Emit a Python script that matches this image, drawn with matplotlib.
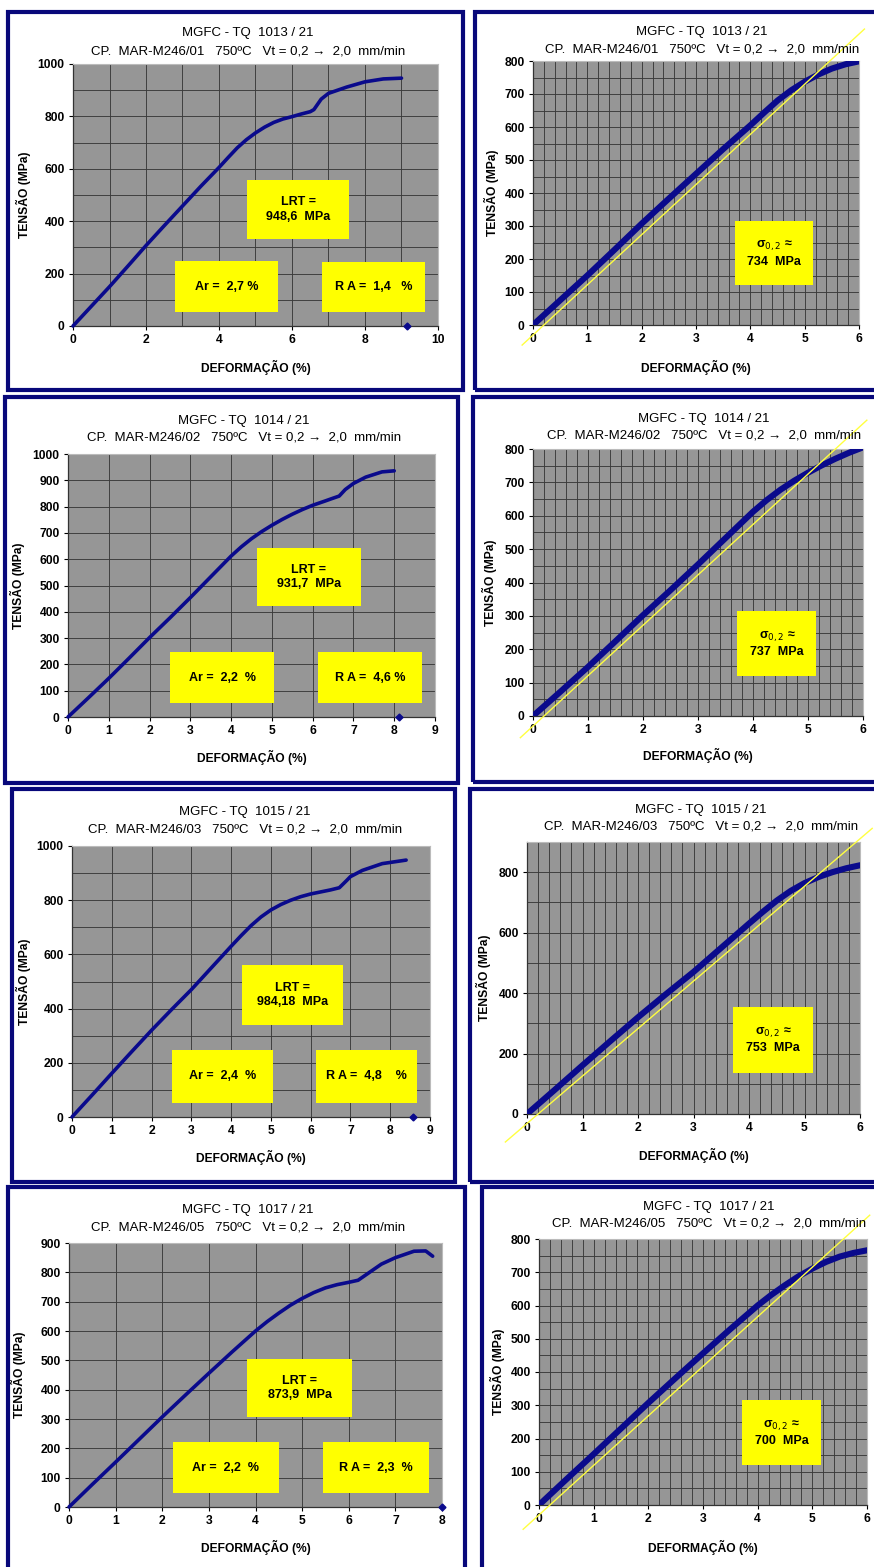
import matplotlib
matplotlib.use("Agg")
import matplotlib.pyplot as plt
from matplotlib.patches import Rectangle
from matplotlib.ticker import MultipleLocator

plt.rcParams['font.family'] = ['Liberation Sans', 'DejaVu Sans']

# ---------------- data ----------------
tests = ["1013", "1014", "1015", "1017"]
specimens = ["MAR-M246/01", "MAR-M246/02", "MAR-M246/03", "MAR-M246/05"]

strain_1013 = [0, 0.5, 1.0, 1.5, 2.0, 2.5, 3.0, 3.5, 4.0, 4.25, 4.5, 4.75, 5.0, 5.25, 5.5, 5.75, 6.0, 6.25, 6.5, 6.6, 6.8, 7.0, 7.5, 8.0, 8.5, 9.0]
stress_1013 = [0, 75, 150, 228, 307, 383, 458, 533, 605, 643, 680, 711, 737, 759, 777, 790, 799, 809, 818, 826, 866, 888, 912, 932, 943, 946]

strain_1014 = [0, 0.5, 1.0, 1.5, 2.0, 2.5, 3.0, 3.5, 4.0, 4.25, 4.5, 4.75, 5.0, 5.25, 5.5, 5.75, 6.0, 6.3, 6.5, 6.65, 6.8, 7.0, 7.3, 7.7, 8.0]
stress_1014 = [0, 73, 147, 224, 302, 377, 454, 533, 612, 647, 678, 705, 729, 751, 771, 789, 805, 821, 832, 840, 865, 888, 912, 932, 936]

strain_1015 = [0, 0.5, 1.0, 1.5, 2.0, 2.5, 3.0, 3.5, 4.0, 4.25, 4.5, 4.75, 5.0, 5.25, 5.5, 5.75, 6.0, 6.5, 6.72, 6.9, 7.0, 7.3, 7.8, 8.4]
stress_1015 = [0, 80, 161, 241, 320, 396, 470, 550, 630, 669, 706, 738, 764, 784, 800, 813, 823, 838, 846, 872, 887, 910, 935, 948]

strain_1017 = [0, 0.5, 1.0, 1.5, 2.0, 2.5, 3.0, 3.5, 4.0, 4.25, 4.5, 4.75, 5.0, 5.25, 5.5, 5.75, 6.0, 6.2, 6.4, 6.7, 7.0, 7.4, 7.65, 7.8]
stress_1017 = [0, 77, 153, 230, 307, 382, 456, 529, 600, 632, 661, 688, 711, 731, 747, 758, 766, 773, 795, 828, 850, 872, 873, 855]

fracture_strain = [9.15, 8.12, 8.58, 8.0]

lrt = ["948,6", "931,7", "984,18", "873,9"]
ar = ["2,7 %", "2,2  %", "2,4  %", "2,2  %"]
ra = ["1,4   %", "4,6 %", "4,8    %", "2,3  %"]
sigma02 = ["734", "737", "753", "700"]

# 0.2 % offset line: modulus (MPa per %) and drawn strain range
offset_mod = [152, 151, 157, 149]
offset_x0 = [-0.2, -0.23, -0.39, -0.29]
offset_x1 = [6.1, 6.07, 6.22, 6.05]

# left axes: xmax, xtick step, ymax, ytick step, y grid step
left_xmax = [10, 9, 9, 8]
left_xstep = [2, 1, 1, 1]
left_ymax = [1000, 1000, 1000, 900]
left_ystep = [200, 100, 200, 100]
left_ygrid = [100, 100, 100, 100]
# right axes
right_ymax = [800, 800, 900, 800]
right_ystep = [100, 100, 200, 100]
right_ygrid = [50, 50, 100, 50]

strains = [strain_1013, strain_1014, strain_1015, strain_1017]
stresses = [stress_1013, stress_1014, stress_1015, stress_1017]

# ---------------- layout (pixels) ----------------
W, H = 874, 1567
fig = plt.figure(figsize=(W / 100, H / 100), dpi=100)
fig.patch.set_facecolor('white')

frames_L = [(8, 12, 463, 390), (5, 397, 458, 783), (12, 789, 455, 1182), (8, 1187, 465, 1572)]
frames_R = [(475, 12, 880, 390), (473, 397, 880, 782), (470, 789, 880, 1182), (482, 1187, 880, 1572)]
axes_L = [(73, 64, 438, 326), (68, 454, 435, 717), (72, 846, 430, 1117), (69, 1243, 442, 1507)]
axes_R = [(533, 61, 859, 325), (533, 449, 863, 716), (527, 842, 860, 1114), (539, 1239, 867, 1505)]
title_L = [(248, 33, 52), (244, 421, 438), (245, 812, 829), (248, 1210, 1227)]
title_R = [(702, 32, 50), (704, 419, 435), (701, 810, 827), (709, 1207, 1224)]
ylab_L = [23, 17, 23, 18]
ylab_R = [491, 489, 483, 497]
xlab_L = [367, 757, 1157, 1547]
xlab_R = [367, 755, 1155, 1547]
lrt_box = [(0.477, 0.332, 0.756, 0.557), (0.515, 0.422, 0.798, 0.643),
           (0.475, 0.339, 0.757, 0.561), (0.477, 0.341, 0.759, 0.561)]

NAVY = '#0a0a8c'
FRAME = '#08087a'
GRAY = '#969696'
GRID = '#3a3a3a'
YELLOW = '#ffff00'


def fx(px):
    return px / W


def fy(py):
    return 1 - py / H


def add_frame(fr):
    x0, y0, x1, y1 = fr
    fig.patches.append(Rectangle((fx(x0), fy(y1)), (x1 - x0) / W, (y1 - y0) / H,
                                 transform=fig.transFigure, fill=False,
                                 edgecolor=FRAME, linewidth=3.0, zorder=0))


def make_axes(a):
    x0, y0, x1, y1 = a
    ax = fig.add_axes([fx(x0), fy(y1), (x1 - x0) / W, (y1 - y0) / H])
    ax.set_facecolor(GRAY)
    for s in ['top', 'right']:
        ax.spines[s].set_color('#bbbbbb')
        ax.spines[s].set_linewidth(0.8)
    for s in ['left', 'bottom']:
        ax.spines[s].set_color('#333333')
        ax.spines[s].set_linewidth(0.9)
    ax.tick_params(axis='both', which='major', labelsize=8.5, length=3, width=0.8,
                   colors='black', pad=3)
    ax.tick_params(axis='both', which='minor', length=0)
    ax.grid(True, which='both', color=GRID, linewidth=0.65)
    ax.set_axisbelow(True)
    return ax


def boldticks(ax):
    for lab in ax.get_xticklabels() + ax.get_yticklabels():
        lab.set_fontweight('bold')
        lab.set_fontsize(8.7)


def box(ax, rect, text, fs=9):
    x0, y0, x1, y1 = rect
    ax.add_patch(Rectangle((x0, y0), x1 - x0, y1 - y0, transform=ax.transAxes,
                           facecolor=YELLOW, edgecolor='none', zorder=5))
    ax.text((x0 + x1) / 2, (y0 + y1) / 2, text, transform=ax.transAxes,
            ha='center', va='center', fontsize=fs, fontweight='bold',
            linespacing=1.25, zorder=6)


def titles(t, i):
    cx, l1, l2 = t
    fig.text(fx(cx), fy(l1), f"MGFC - TQ  {tests[i]} / 21", ha='center', va='center', fontsize=9.5)
    fig.text(fx(cx), fy(l2), f"CP.  {specimens[i]}   750ºC   Vt = 0,2 \u2192  2,0  mm/min",
             ha='center', va='center', fontsize=9.5)


for i in range(4):
    # ---------- left: full curve ----------
    add_frame(frames_L[i])
    ax = make_axes(axes_L[i])
    ax.set_xlim(0, left_xmax[i])
    ax.set_ylim(0, left_ymax[i])
    ax.xaxis.set_major_locator(MultipleLocator(left_xstep[i]))
    ax.xaxis.set_minor_locator(MultipleLocator(1))
    ax.yaxis.set_major_locator(MultipleLocator(left_ystep[i]))
    ax.yaxis.set_minor_locator(MultipleLocator(left_ygrid[i]))
    ax.plot(strains[i], stresses[i], color=NAVY, lw=2.6, solid_capstyle='round',
            solid_joinstyle='round', zorder=3, clip_on=False)
    ax.plot([fracture_strain[i]], [0], marker='D', ms=3.5, color=NAVY, ls='none', zorder=4, clip_on=False)
    boldticks(ax)
    box(ax, lrt_box[i], f"LRT =\n{lrt[i]}  MPa")
    box(ax, (0.279, 0.052, 0.562, 0.247), f"Ar =  {ar[i]}")
    box(ax, (0.682, 0.053, 0.964, 0.246), f"R A =  {ra[i]}")
    titles(title_L[i], i)
    x0, y0, x1, y1 = axes_L[i]
    fig.text(fx(ylab_L[i]), fy((y0 + y1) / 2), "TENSÃO (MPa)", rotation=90, ha='center',
             va='center', fontsize=8.7, fontweight='bold')
    fig.text(fx((x0 + x1) / 2), fy(xlab_L[i]), "DEFORMAÇÃO (%)", ha='center', va='center',
             fontsize=8.7, fontweight='bold')

    # ---------- right: elastic zoom ----------
    add_frame(frames_R[i])
    ax = make_axes(axes_R[i])
    ax.set_xlim(0, 6)
    ax.set_ylim(0, right_ymax[i])
    ax.xaxis.set_major_locator(MultipleLocator(1))
    ax.xaxis.set_minor_locator(MultipleLocator(0.2))
    ax.yaxis.set_major_locator(MultipleLocator(right_ystep[i]))
    ax.yaxis.set_minor_locator(MultipleLocator(right_ygrid[i]))
    ax.plot(strains[i], stresses[i], color=NAVY, lw=4.4, solid_capstyle='round',
            solid_joinstyle='round', zorder=3)
    xs = [offset_x0[i], offset_x1[i]]
    ys = [offset_mod[i] * (x - 0.2) for x in xs]
    ax.plot(xs, ys, color='#ffff40', lw=1.0, zorder=4, clip_on=False)
    boldticks(ax)
    box(ax, (0.619, 0.150, 0.859, 0.393), f"σ$_{{0,2}}$ \u2248\n{sigma02[i]}  MPa")
    titles(title_R[i], i)
    x0, y0, x1, y1 = axes_R[i]
    fig.text(fx(ylab_R[i]), fy((y0 + y1) / 2), "TENSÃO (MPa)", rotation=90, ha='center',
             va='center', fontsize=8.7, fontweight='bold')
    fig.text(fx((x0 + x1) / 2), fy(xlab_R[i]), "DEFORMAÇÃO (%)", ha='center', va='center',
             fontsize=8.7, fontweight='bold')

fig.savefig("out.png", dpi=100, facecolor='white')
